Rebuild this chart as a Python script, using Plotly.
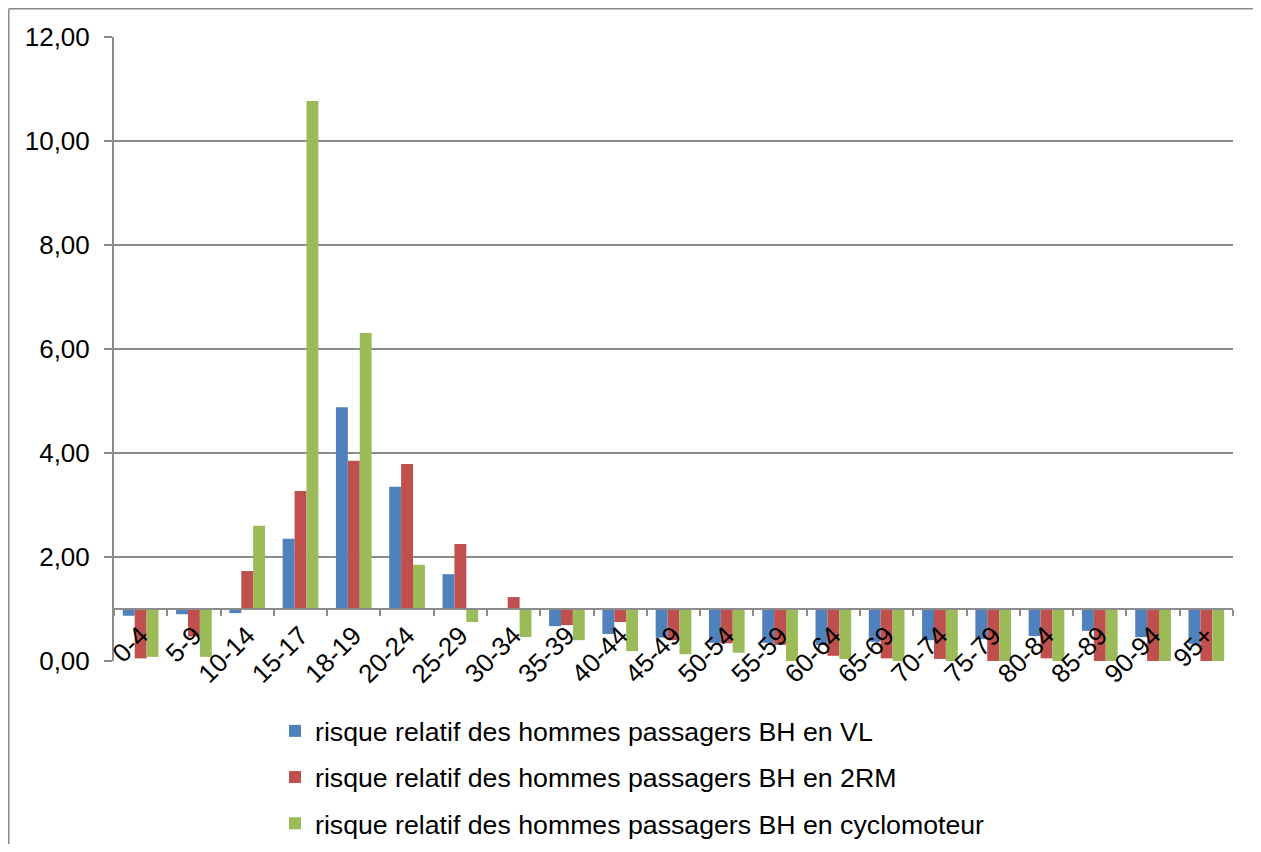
import plotly.graph_objects as go

categories = ["0-4", "5-9", "10-14", "15-17", "18-19", "20-24", "25-29", "30-34", "35-39", "40-44",
              "45-49", "50-54", "55-59", "60-64", "65-69", "70-74", "75-79", "80-84", "85-89", "90-94", "95+"]
vl = [0.87, 0.90, 0.92, 2.35, 4.88, 3.35, 1.67, 1.00, 0.67, 0.52,
      0.45, 0.35, 0.35, 0.31, 0.37, 0.40, 0.42, 0.48, 0.58, 0.46, 0.33]
rm2 = [0.05, 0.47, 1.73, 3.27, 3.85, 3.79, 2.25, 1.23, 0.69, 0.75,
       0.40, 0.34, 0.31, 0.10, 0.05, 0.04, 0.00, 0.05, 0.00, 0.00, 0.00]
cyclo = [0.08, 0.08, 2.60, 10.77, 6.31, 1.85, 0.75, 0.46, 0.40, 0.19,
         0.13, 0.16, 0.00, 0.04, 0.00, 0.00, 0.00, 0.00, 0.00, 0.00, 0.00]
names = ["risque relatif des hommes passagers BH en VL",
         "risque relatif des hommes passagers BH en 2RM",
         "risque relatif des hommes passagers BH en cyclomoteur"]
colors = ["#4F81BD", "#C0504D", "#9BBB59"]
BASE = 1.0

fig = go.Figure()
for i, (vals, name, col) in enumerate(zip([vl, rm2, cyclo], names, colors)):
    fig.add_trace(go.Bar(
        x=categories, y=[v - BASE for v in vals], base=BASE, name=name,
        marker=dict(color=col, line=dict(width=0)), legendgroup=str(i),
    ))

# page has an 8px body margin; figure coords = page coords - 8
W, H = 1253, 836
L, R, T, B = 106, 28, 29, 183
pw = W - L - R
ph = H - T - B
font = "Liberation Sans, Arial, sans-serif"
FS = 26
pos = (BASE / 12.0)

fig.update_layout(
    width=W, height=H,
    margin=dict(l=L, r=R, t=T, b=B, pad=0, autoexpand=False),
    paper_bgcolor="white", plot_bgcolor="white",
    separators=", ",
    barmode="group", bargap=0.33, bargroupgap=0,
    font=dict(family=font, size=FS, color="black"),
    showlegend=True,
    legend=dict(orientation="v", x=(267 - L) / pw, xanchor="left",
                y=(H - B - 699) / ph, yanchor="top",
                font=dict(size=26.7), tracegroupgap=8.5, bgcolor="rgba(0,0,0,0)"),
    xaxis=dict(type="category", anchor="free", position=pos,
               showline=True, linecolor="#8c8c8c", linewidth=2,
               ticks="outside", tickson="boundaries", ticklen=6, tickcolor="#8c8c8c", tickwidth=2,
               tickangle=-45, showgrid=False, tickfont=dict(size=FS)),
    yaxis=dict(range=[0, 12], dtick=2, tickformat=".2f", showgrid=True,
               gridcolor="#8c8c8c", gridwidth=1.5, zeroline=False,
               showline=True, linecolor="#8c8c8c", linewidth=2,
               ticks="outside", ticklen=8, tickcolor="#8c8c8c", tickwidth=2,
               ticklabelstandoff=9, tickfont=dict(size=FS)),
)

# outer chart frame (only left and top edges are visible in the reference)
x_left = (0.75 - L) / pw
x_right = (W + 30 - L) / pw
y_top = (H - B - 0.75) / ph
y_bot = (H - B - (H + 30)) / ph
fig.add_shape(type="line", xref="paper", yref="paper", x0=x_left, x1=x_left, y0=y_bot, y1=y_top,
              line=dict(color="#8c8c8c", width=1.5), layer="below")
fig.add_shape(type="line", xref="paper", yref="paper", x0=x_left, x1=x_right, y0=y_top, y1=y_top,
              line=dict(color="#8c8c8c", width=1.5), layer="below")

fig.write_html("out.html")
